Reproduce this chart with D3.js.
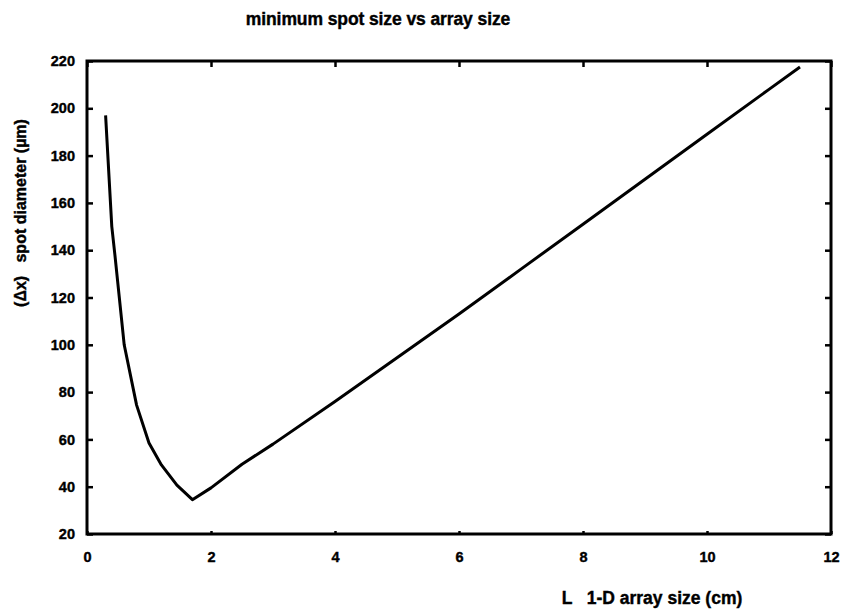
<!DOCTYPE html>
<html><head><meta charset="utf-8">
<script src="https://cdn.jsdelivr.net/npm/d3@7"></script>
<style>
body{margin:0;background:#fff;}
text{font-family:"Liberation Sans",Arial,sans-serif;font-weight:bold;fill:#000;stroke:#000;stroke-width:0.4px;}
</style></head>
<body><svg id="c" width="844" height="614"></svg>
<script>
const title = "minimum spot size vs array size";
const xLabel = "L   1-D array size (cm)";
const yLabel = "(Δx)   spot diameter (µm)";
const xTicks = [0, 2, 4, 6, 8, 10, 12];
const yTicks = [20, 40, 60, 80, 100, 120, 140, 160, 180, 200, 220];
const arraySize = [0.3, 0.4, 0.45, 0.6, 0.8, 1.0, 1.2, 1.45, 1.7, 2, 2.5, 3, 4, 5, 6, 7, 8, 9, 10, 11, 11.5];
const spotDiameter = [197, 150, 138, 100, 74.5, 58.5, 49.2, 40.7, 34.5, 39.5, 49.5, 58, 76, 94.5, 113, 132, 151, 170, 189, 208, 217.5];

const svg = d3.select("#c");
const L = 87, R = 831, T = 61, B = 534;
const x = d3.scaleLinear().domain([0, 12]).range([L, R]);
const y = d3.scaleLinear().domain([20, 220]).range([B, T]);

// title
svg.append("text").attr("x", 378).attr("y", 25).attr("text-anchor", "middle")
  .style("font-size", "17.5px").style("letter-spacing", "-0.1px").text(title);

// axes with inward ticks
const gB = svg.append("g").attr("transform", `translate(0,${B})`)
  .call(d3.axisBottom(x).tickValues(xTicks).tickSize(-3).tickPadding(18).tickFormat(d3.format("d")));
const gT = svg.append("g").attr("transform", `translate(0,${T})`)
  .call(d3.axisTop(x).tickValues(xTicks).tickSize(-6).tickFormat(""));
const gL = svg.append("g").attr("transform", `translate(${L},0)`)
  .call(d3.axisLeft(y).tickValues(yTicks).tickSize(-6).tickPadding(12).tickFormat(d3.format("d")));
const gR = svg.append("g").attr("transform", `translate(${R},0)`)
  .call(d3.axisRight(y).tickValues(yTicks).tickSize(-6).tickFormat(""));
[gB, gT, gL, gR].forEach(g => {
  g.select(".domain").remove();
  g.selectAll(".tick line").attr("stroke", "#000").attr("stroke-width", 2.5);
  g.selectAll("text").style("font-size", "14.5px").style("font-family", '"Liberation Sans",Arial,sans-serif')
    .style("font-weight", "bold").attr("fill", "#000").attr("stroke", "#000").attr("stroke-width", 0.5);
});

// frame
svg.append("rect").attr("x", L).attr("y", T).attr("width", R - L).attr("height", B - T)
  .attr("fill", "none").attr("stroke", "#000").attr("stroke-width", 3);

// curve
const pts = arraySize.map((v, i) => [v, spotDiameter[i]]);
svg.append("path").datum(pts)
  .attr("d", d3.line().x(d => x(d[0])).y(d => y(d[1])))
  .attr("fill", "none").attr("stroke", "#000").attr("stroke-width", 3).attr("stroke-linejoin", "round");

// axis labels
svg.append("text").attr("x", 652).attr("y", 604).attr("text-anchor", "middle")
  .style("font-size", "17.5px").style("white-space", "pre").attr("xml:space", "preserve").text(xLabel);
svg.append("text").attr("transform", "translate(26,213) rotate(-90)").attr("text-anchor", "middle")
  .style("font-size", "16px").style("white-space", "pre").attr("xml:space", "preserve").text(yLabel);
</script></body></html>
